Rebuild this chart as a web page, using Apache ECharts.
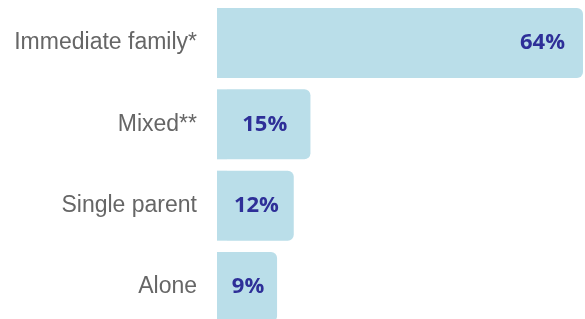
<!DOCTYPE html>
<html>
<head>
<meta charset="utf-8">
<script src="https://cdn.jsdelivr.net/npm/echarts@6/dist/echarts.min.js"></script>
<style>
  html, body { margin: 0; padding: 0; background: #fff; }
  #chart { width: 585px; height: 319px; }
</style>
</head>
<body>
<div id="chart"></div>
<script>
  const categories = ['Immediate family*', 'Mixed**', 'Single parent', 'Alone'];
  const shares = [64, 15, 12, 9];
  const valueLabels = ['64%', '15%', '12%', '9%'];

  const barColor = '#badee9';
  const labelColor = '#2e2f98';
  // bars start a little left of the zero point, like the original layout
  const axisMin = -1.798;

  const chart = echarts.init(document.getElementById('chart'), null, { renderer: 'canvas' });

  chart.setOption({
    animation: false,
    grid: { left: 217, right: 2, top: 2.3, bottom: -8.7, outerBoundsMode: 'none' },
    xAxis: {
      type: 'value',
      min: axisMin,
      max: 64,
      show: false
    },
    yAxis: {
      type: 'category',
      inverse: true,
      data: categories,
      axisLine: { show: false },
      axisTick: { show: false },
      axisLabel: {
        margin: 20,
        fontSize: 23,
        color: '#666666',
        fontFamily: 'Liberation Sans'
      }
    },
    series: [
      {
        type: 'bar',
        stack: 'bar',
        barWidth: 70,
        silent: true,
        itemStyle: { color: barColor, borderRadius: 0 },
        data: categories.map(() => axisMin)
      },
      {
        type: 'bar',
        stack: 'bar',
        barWidth: 70,
        itemStyle: { color: barColor, borderRadius: [0, 6, 6, 0] },
        data: shares.map((v, i) => ({
          value: v,
          label: v > 30
            ? { position: 'insideRight', distance: 18 }
            : { position: 'inside', offset: [-4, 0] }
        })),
        label: {
          show: true,
          formatter: p => valueLabels[p.dataIndex],
          fontSize: 22,
          fontWeight: 'bold',
          fontFamily: 'Open Sans',
          color: labelColor
        }
      }
    ]
  });
</script>
</body>
</html>
